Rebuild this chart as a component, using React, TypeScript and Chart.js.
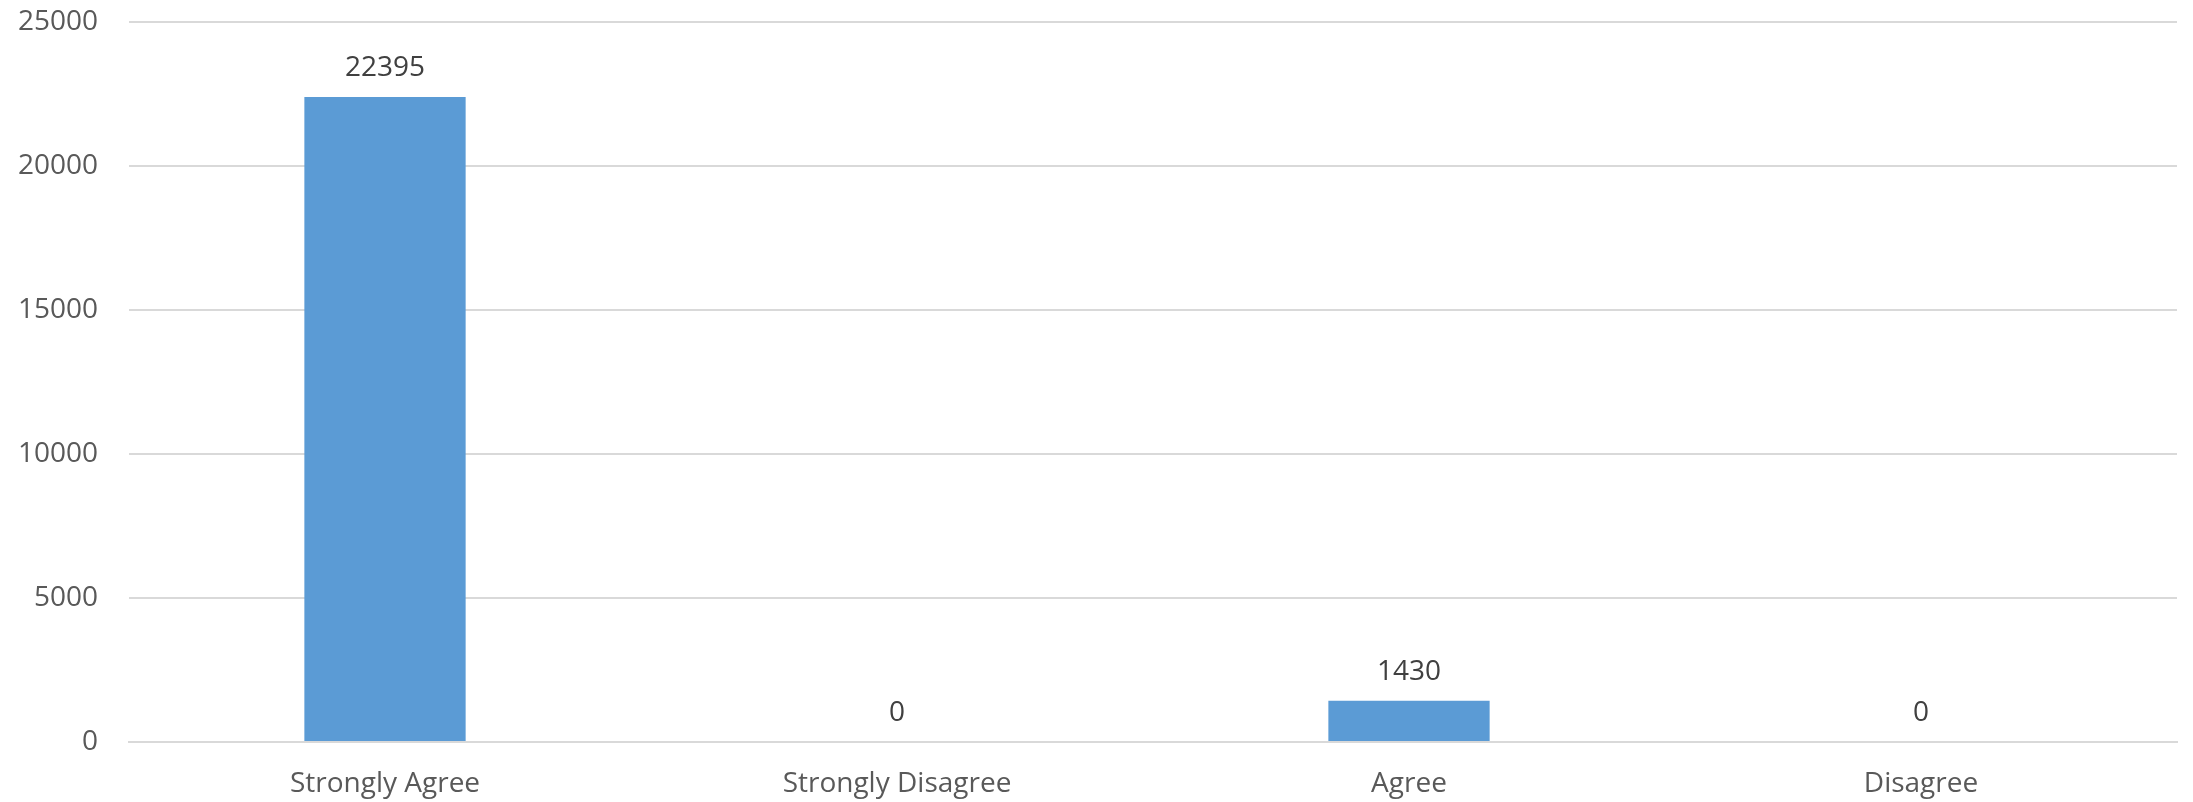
import React, { useEffect, useRef } from "react";
import { Chart, registerables } from "chart.js";

Chart.register(...registerables);

const categories = ["Strongly Agree", "Strongly Disagree", "Agree", "Disagree"];
const responses = [22395, 0, 1430, 0];
const yMin = 0;
const yMax = 25000;
const yStep = 5000;

const FONT = "'Open Sans', sans-serif";

const valueLabels = {
  id: "valueLabels",
  afterDatasetsDraw(chart: any) {
    const { ctx } = chart;
    const meta = chart.getDatasetMeta(0);
    const data = chart.data.datasets[0].data as number[];
    ctx.save();
    ctx.font = `28px ${FONT}`;
    ctx.fillStyle = "#404040";
    ctx.textAlign = "center";
    ctx.textBaseline = "middle";
    meta.data.forEach((bar: any, i: number) => {
      ctx.fillText(String(data[i]), bar.x, bar.y - 29);
    });
    ctx.restore();
  },
};

export default function App() {
  const ref = useRef<HTMLCanvasElement>(null);
  useEffect(() => {
    if (!ref.current) return;
    const chart = new Chart(ref.current, {
      type: "bar",
      data: {
        labels: categories,
        datasets: [
          {
            data: responses,
            backgroundColor: "#5B9BD5",
            borderWidth: 0,
            categoryPercentage: 1,
            barPercentage: 0.315,
          },
        ],
      },
      options: {
        animation: false,
        responsive: false,
        maintainAspectRatio: false,
        layout: { padding: { left: 0, right: 16, top: 22, bottom: 0 } },
        plugins: { legend: { display: false }, tooltip: { enabled: false } },
        scales: {
          x: {
            grid: { display: false, drawTicks: false },
            border: { display: true, color: "#d9d9d9", width: 2 },
            ticks: { color: "#595959", font: { family: FONT, size: 28 }, padding: 25, maxRotation: 0 },
            afterFit: (s: any) => { s.height = 60; s.paddingLeft = 0; s.paddingRight = 0; },
          },
          y: {
            min: yMin,
            max: yMax,
            grid: { color: "#d9d9d9", lineWidth: 2, drawTicks: false },
            border: { display: false },
            ticks: {
              stepSize: yStep,
              color: "#595959",
              font: { family: FONT, size: 28 },
              padding: 31,
              callback: (v: any) => String(v),
            },
            afterFit: (s: any) => { s.width = 129; s.paddingTop = 0; s.paddingBottom = 0; },
          },
        },
      },
      plugins: [valueLabels],
    });
    return () => chart.destroy();
  }, []);
  return (
    <div style={{ position: "absolute", left: 0, top: 0, width: 2193, height: 802, background: "#fff" }}>
      <canvas ref={ref} width={2193} height={802} />
    </div>
  );
}
